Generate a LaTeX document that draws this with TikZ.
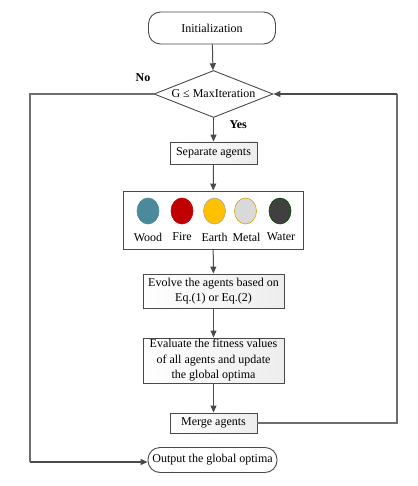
\documentclass[tikz,border=0pt]{standalone}
\usepackage{fontspec}
\setmainfont{Liberation Serif}
\usetikzlibrary{shapes.geometric,arrows.meta}
\definecolor{linec}{HTML}{4A4A4A}
\definecolor{woodc}{HTML}{4A8A9A}
\definecolor{firec}{HTML}{C00000}
\definecolor{earthc}{HTML}{FFC000}
\definecolor{metalc}{HTML}{D9D9D9}
\definecolor{waterc}{HTML}{404040}
\begin{document}
\begin{tikzpicture}[x=1pt,y=-1pt,
  font=\fontsize{12}{15.5}\selectfont,
  proc/.style={draw=linec, line width=0.9pt, left color=white, right color=gray!14, inner sep=0pt, align=center},
  term/.style={draw=linec, line width=0.9pt, rounded corners=12pt, fill=white, inner sep=0pt},
  conn/.style={draw=linec, line width=1pt, -{Triangle[length=7pt,width=6pt]}},
  loopc/.style={draw=linec!80, line width=1.2pt},
  agent/.style={ellipse, minimum width=22pt, minimum height=26pt, inner sep=0pt, line width=0.6pt}]
\useasboundingbox (0,0) rectangle (417,486);
\node[term, minimum width=127pt, minimum height=32pt] (init) at (212,28) {Initialization};
\node[diamond, draw=linec, line width=0.9pt, fill=white, aspect=2.55, minimum width=119pt, minimum height=47pt, inner sep=0pt] (cond) at (213.5,94) {G ≤ MaxIteration};
\node[proc, minimum width=87pt, minimum height=22pt] (sep) at (213.5,153) {Separate agents};
\node[draw=linec, line width=0.9pt, fill=white, minimum width=180pt, minimum height=58pt, inner sep=0pt] (elem) at (213,220) {};
\node[agent, fill=woodc, draw=woodc] (wood) at (148,211) {};
\node[agent, fill=firec, draw=firec] (fire) at (182,211) {};
\node[agent, fill=earthc, draw=gray!70] (earth) at (214.5,211) {};
\node[agent, fill=metalc, draw=earthc!85!black] (metal) at (245.5,211) {};
\node[agent, fill=waterc, draw=green!30!black] (water) at (280,211) {};
\node (lwood) at (148,237) {Wood};
\node (lfire) at (182,237) {Fire};
\node (learth) at (214.5,237) {Earth};
\node (lmetal) at (246.5,237) {Metal};
\node (lwater) at (281,237) {Water};
\node[proc, minimum width=141pt, minimum height=34pt] (evo) at (213.5,291) {Evolve the agents based on\\Eq.(1) or Eq.(2)};
\node[proc, minimum width=141pt, minimum height=45pt] (eval) at (213.5,360.5) {Evaluate the fitness values\\of all agents and update\\the global optima};
\node[proc, minimum width=87pt, minimum height=20pt] (merge) at (213.5,423) {Merge agents};
\node[term, minimum width=129pt, minimum height=25pt] (out) at (212.5,460) {Output the global optima};
\node[font=\fontsize{12}{14}\selectfont\bfseries] (no) at (143,78) {No};
\node[font=\fontsize{12}{14}\selectfont\bfseries, anchor=west] (yes) at (226,125) {Yes};
\coordinate (lt) at (30,94);
\coordinate (lb) at (30,462);
\coordinate (rb) at (397,423);
\coordinate (rt) at (397,94);
\draw[conn] (init) -- (cond);
\draw[conn] (cond) -- (sep);
\draw[conn] (sep) -- (elem);
\draw[conn] (elem) -- (evo);
\draw[conn] (evo) -- (eval);
\draw[conn] (eval) -- (merge);
\draw[loopc] (cond.west) -- (lt) -- (lb);
\draw[conn, line width=1.2pt] (lb) -- (out.west |- lb);
\draw[loopc] (merge.east) -- (rb) -- (rt);
\draw[conn, line width=1.2pt] (rt) -- (cond.east);
\end{tikzpicture}
\end{document}
